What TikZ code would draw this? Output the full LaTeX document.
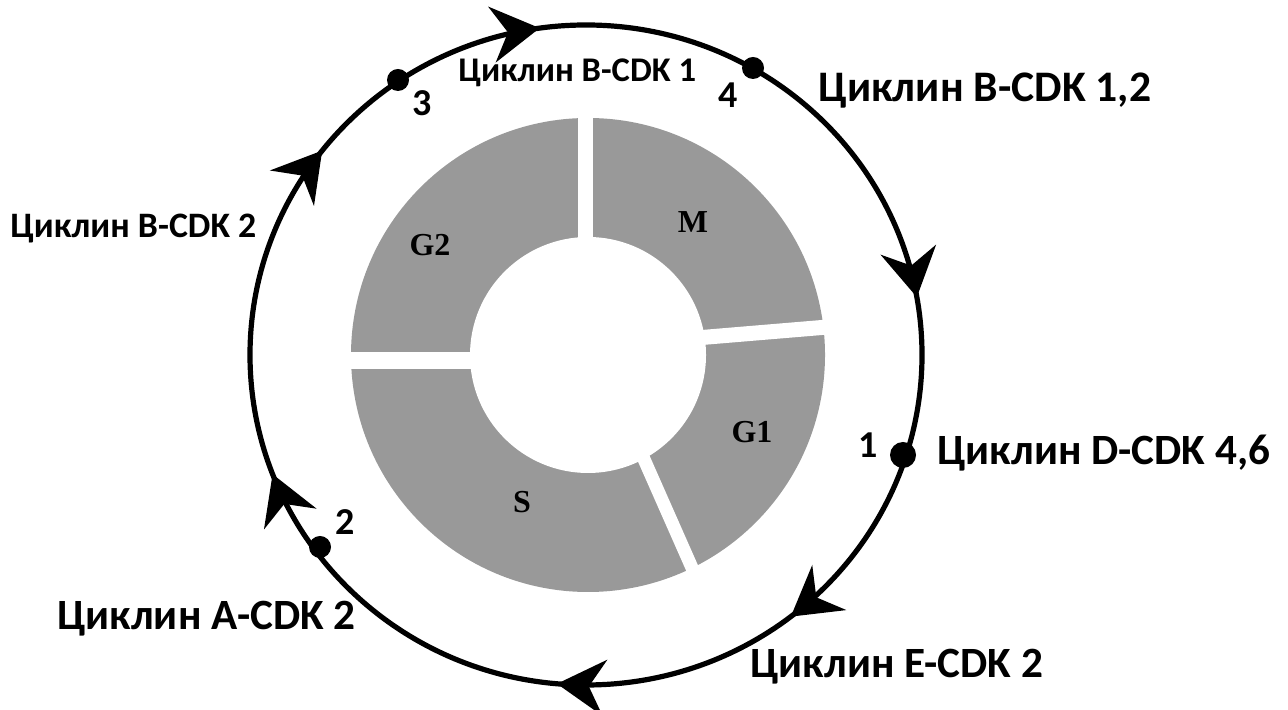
\documentclass[tikz,border=0pt]{standalone}
\usepackage{fontspec}
\setmainfont{Carlito}
\newfontfamily\phasefont{Liberation Serif}
\usetikzlibrary{arrows.meta,decorations.markings}
\definecolor{donutgray}{RGB}{153,153,153}
\tikzset{
  ring/.style={line width=2.6pt, black},
  dotnode/.style={circle, fill=black, inner sep=0pt, minimum size=11pt},
  cyc/.style={font=\bfseries\fontsize{#1}{#1}\selectfont, inner sep=0pt, anchor=base west},
  numlab/.style={font=\bfseries\fontsize{19}{19}\selectfont, inner sep=0pt},
  phase/.style={font=\phasefont\bfseries\fontsize{16}{16}\selectfont, inner sep=0pt},
  gap/.style={white, line cap=butt},
  cycarrows/.style={postaction={decorate}, decoration={markings,
    mark=at position 0.1056 with {\arrow{Stealth[length=24pt, width=28pt, inset=8pt]}},
    mark=at position 0.2278 with {\arrow{Stealth[length=24pt, width=28pt, inset=8pt]}},
    mark=at position 0.4722 with {\arrow{Stealth[length=24pt, width=28pt, inset=8pt]}},
    mark=at position 0.6450 with {\arrow{Stealth[length=24pt, width=28pt, inset=8pt]}},
    mark=at position 0.7639 with {\arrow{Stealth[length=24pt, width=28pt, inset=8pt]}},
    mark=at position 0.9417 with {\arrow{Stealth[length=24pt, width=28pt, inset=8pt]}}}}
}
\begin{document}
\begin{tikzpicture}[x=0.5pt,y=0.5pt]
\useasboundingbox (0,0) rectangle (1288,710);
\coordinate (c) at (586,355);
\coordinate (dc) at (588,355);
% donut
\fill[donutgray] (dc) circle[radius=237];
\fill[white] (dc) circle[radius=118];
\coordinate (gTa) at (585,355);  \coordinate (gTb) at (585,605);
\coordinate (gLa) at (588,349);  \coordinate (gLb) at (338,349);
\coordinate (gRa) at (588,363);  \coordinate (gRb) at (840,384);
\coordinate (gSa) at (598,355);  \coordinate (gSb) at (700,124);
\draw[gap, line width=7.5pt] (gTa) -- (gTb);
\draw[gap, line width=8.5pt] (gLa) -- (gLb);
\draw[gap, line width=7.5pt] (gRa) -- (gRb);
\draw[gap, line width=6.5pt] (gSa) -- (gSb);
\node[phase] (pM) at (693,488) {M};
\node[phase] (pG2) at (430,465) {G2};
\node[phase] (pG1) at (752,278) {G1};
\node[phase] (pS) at (522,208) {S};
% cycle ring
\draw[ring, cycarrows] (250,355) arc[start angle=180, end angle=-180, x radius=336, y radius=330];
\node[dotnode] (d4) at (753,642) {};
\node[dotnode] (d3) at (398,630) {};
\node[dotnode] (d2) at (320,163) {};
\node[dotnode, minimum size=13pt] (d1) at (903,255) {};
\node[numlab] (n4) at (728,615) {4};
\node[numlab] (n3) at (422,607) {3};
\node[numlab] (n2) at (345,188) {2};
\node[numlab] (n1) at (868,265) {1};
% labels
\node[cyc=21.8] (l12) at (818,608) {Циклин B-CDK 1,2};
\node[cyc=17.3] (l1) at (458,628) {Циклин B-CDK 1};
\node[cyc=17.9] (l2) at (10,472) {Циклин B-CDK 2};
\node[cyc=21.6] (lA) at (57,80) {Циклин A-CDK 2};
\node[cyc=21.6] (lE) at (750,32) {Циклин E-CDK 2};
\node[cyc=21.6] (lD) at (937,245) {Циклин D-CDK 4,6};
\end{tikzpicture}
\end{document}
